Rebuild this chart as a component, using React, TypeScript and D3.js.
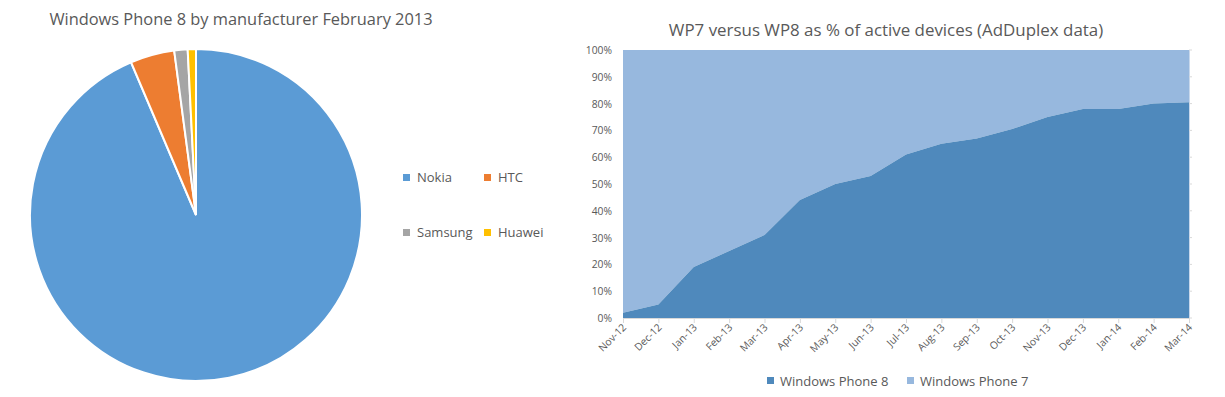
import React from "react";
import * as d3 from "d3";

const manufacturers = ["Nokia", "HTC", "Samsung", "Huawei"];
const shares = [93.6, 4.3, 1.3, 0.8];
const pieColors = ["#5B9BD5", "#ED7D31", "#A5A5A5", "#FFC000"];

const months = ["Nov-12", "Dec-12", "Jan-13", "Feb-13", "Mar-13", "Apr-13", "May-13", "Jun-13", "Jul-13", "Aug-13", "Sep-13", "Oct-13", "Nov-13", "Dec-13", "Jan-14", "Feb-14", "Mar-14"];
const wp8 = [2, 5, 19, 25, 31, 44, 50, 53, 61, 65, 67, 70.5, 75, 78, 78, 80, 80.5];
const wp7 = wp8.map((v) => 100 - v);
const yTicks = [0, 10, 20, 30, 40, 50, 60, 70, 80, 90, 100];
const seriesNames = ["Windows Phone 8", "Windows Phone 7"];
const areaColors = ["#4F89BC", "#97B8DE"];

const FONT = "'Open Sans', 'DejaVu Sans', sans-serif";
const TXT = "#595959";

export default function App() {
  const W = 1225, H = 397;
  // pie
  const cx = 196, cy = 215, r = 166;
  const pie = d3.pie<number>().sort(null).value((d) => d)(shares);
  const arc = d3.arc<d3.PieArcDatum<number>>().innerRadius(0).outerRadius(r);

  // area
  const x = d3.scalePoint<string>().domain(months).range([623, 1189]);
  const y = d3.scaleLinear().domain([0, 100]).range([318, 50]);
  const area8 = d3.area<number>().x((_, i) => x(months[i])!).y0(y(0)).y1((d) => y(d));
  const area7 = d3.area<number>().x((_, i) => x(months[i])!).y0((_, i) => y(wp8[i])).y1((_, i) => y(wp8[i] + wp7[i]));

  return (
    <svg width={W} height={H} style={{ position: "absolute", left: 0, top: 0, fontFamily: FONT }}>
      <rect width={W} height={H} fill="#fff" />
      <text x={241} y={25} textAnchor="middle" fontSize={16.4} fill={TXT}>Windows Phone 8 by manufacturer February 2013</text>
      <g transform={`translate(${cx},${cy})`}>
        {pie.map((p, i) => (
          <path key={i} d={arc(p)!} fill={pieColors[i]} stroke="#fff" strokeWidth={2} />
        ))}
      </g>
      {manufacturers.map((m, i) => {
        const lx = 406 + (i % 2) * 81;
        const ly = 177 + Math.floor(i / 2) * 55;
        return (
          <g key={m}>
            <rect x={lx - 3} y={ly - 3} width={7} height={7} fill={pieColors[i]} />
            <text x={lx + 11} y={ly + 5} fontSize={13} fill={TXT}>{m}</text>
          </g>
        );
      })}

      <text x={886} y={36} textAnchor="middle" fontSize={16.9} fill={TXT}>WP7 versus WP8 as % of active devices (AdDuplex data)</text>
      <path d={area7(wp7)!} fill={areaColors[1]} />
      <path d={area8(wp8)!} fill={areaColors[0]} />
      <line x1={1189.5} x2={1189.5} y1={50} y2={318} stroke="#c8d8ec" />
      {yTicks.map((t) => (
        <g key={t}>
          <line x1={1189} x2={1192} y1={y(t)} y2={y(t)} stroke="#d9d9d9" />
          <text x={612} y={y(t) + 4} textAnchor="end" fontSize={10.3} fill={TXT}>{t}%</text>
        </g>
      ))}
      <line x1={623} x2={1189} y1={318.5} y2={318.5} stroke="#d9d9d9" />
      {months.map((m) => (
        <g key={m}>
          <line x1={x(m)! + 0.5} x2={x(m)! + 0.5} y1={318} y2={323} stroke="#d9d9d9" />
          <text transform={`translate(${x(m)! + 4},${328}) rotate(-45)`} textAnchor="end" fontSize={10.3} fill={TXT}>{m}</text>
        </g>
      ))}
      {seriesNames.map((s, i) => {
        const lx = 770 + i * 140;
        return (
          <g key={s}>
            <rect x={lx - 3} y={377} width={7} height={7} fill={areaColors[i]} />
            <text x={lx + 10} y={386} fontSize={13} fill={TXT}>{s}</text>
          </g>
        );
      })}
    </svg>
  );
}
